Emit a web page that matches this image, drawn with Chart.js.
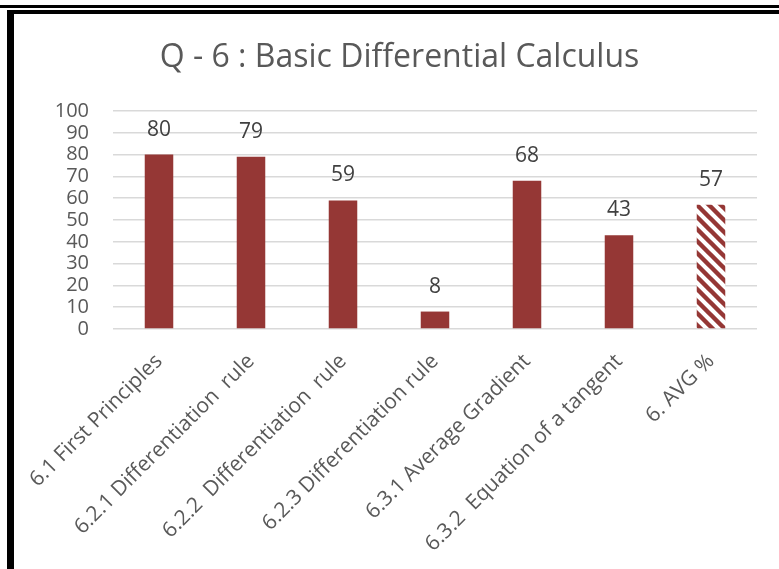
<!DOCTYPE html>
<html>
<head>
<meta charset="utf-8">
<script src="https://cdn.jsdelivr.net/npm/chart.js@4.4.1/dist/chart.umd.min.js"></script>
<style>
  html, body { margin: 0; padding: 0; background: #fff; }
  body { width: 779px; height: 569px; position: relative; overflow: hidden; }
  #topRule { position: absolute; left: 0; top: 5px; width: 779px; height: 3px; background: #000; }
  #frame { position: absolute; left: 7px; top: 10px; right: 0; bottom: 0;
           border-top: 4px solid #000; border-left: 7px solid #000; }
  #wrap { position: absolute; left: 14px; top: 14px; width: 765px; height: 555px; }
</style>
</head>
<body>
<div id="topRule"></div>
<div id="frame"></div>
<div id="wrap"><canvas id="q6-chart"></canvas></div>
<script>
// Q6 results per sub-question, last entry is the section average
const categories = [
    '6.1 First Principles',
    '6.2.1 Differentiation  rule',
    '6.2.2  Differentiation  rule',
    '6.2.3 Differentiation rule',
    '6.3.1 Average Gradient',
    '6.3.2  Equation of a tangent',
    '6. AVG %'
];
const scores = [80, 79, 59, 8, 68, 43, 57];
const yTicks = [0, 10, 20, 30, 40, 50, 60, 70, 80, 90, 100];

const BAR_RED = '#953735';
const FONT = '"Open Sans", Calibri, sans-serif';

// diagonal hatch used for the average bar
function makeHatch() {
    const size = 12;
    const c = document.createElement('canvas');
    c.width = size;
    c.height = size;
    const g = c.getContext('2d');
    g.fillStyle = '#fff';
    g.fillRect(0, 0, size, size);
    g.strokeStyle = BAR_RED;
    g.lineWidth = 4.4;
    g.beginPath();
    g.moveTo(-size, 0); g.lineTo(size, 2 * size);
    g.moveTo(0, 0); g.lineTo(size, size);
    g.moveTo(0, -size); g.lineTo(2 * size, size);
    g.stroke();
    return g.createPattern(c, 'repeat');
}

const hatch = makeHatch();
const barColors = scores.map((v, i) => i === scores.length - 1 ? hatch : BAR_RED);

// value labels above each bar
const valueLabels = {
    id: 'valueLabels',
    afterDatasetsDraw(chart) {
        const ctx = chart.ctx;
        const meta = chart.getDatasetMeta(0);
        ctx.save();
        ctx.font = '21px ' + FONT;
        ctx.fillStyle = '#404040';
        ctx.textAlign = 'center';
        ctx.textBaseline = 'middle';
        meta.data.forEach((bar, i) => {
            ctx.fillText(String(scores[i]), bar.x, bar.y - 25);
        });
        ctx.restore();
    }
};

// centre the title on the whole canvas rather than the padded box
const centreTitle = {
    id: 'centreTitle',
    afterLayout(chart) {
        const t = chart.titleBlock;
        if (t) {
            t.left += 14;
            t.right += 14;
        }
    }
};

const ctx = document.getElementById('q6-chart');
new Chart(ctx, {
    type: 'bar',
    data: {
        labels: categories,
        datasets: [{
            data: scores,
            backgroundColor: barColors,
            borderWidth: 0,
            categoryPercentage: 1,
            barPercentage: 0.31
        }]
    },
    options: {
        responsive: true,
        maintainAspectRatio: false,
        animation: false,
        layout: { padding: { left: 0, right: 22, top: 0, bottom: 0 } },
        plugins: {
            legend: { display: false },
            tooltip: { enabled: false },
            title: {
                display: true,
                text: 'Q - 6 : Basic Differential Calculus',
                color: '#595959',
                font: { family: FONT, size: 32, weight: 'normal', lineHeight: 1.2 },
                padding: { top: 25, bottom: 33.6 }
            }
        },
        scales: {
            y: {
                min: 0,
                max: 100,
                afterBuildTicks: scale => {
                    scale.ticks = yTicks.map(v => ({ value: v }));
                },
                afterFit: scale => { scale.width = 99; },
                border: { display: false },
                grid: { color: '#d9d9d9', lineWidth: 1.5, drawTicks: false },
                ticks: {
                    autoSkip: false,
                    padding: 24,
                    color: '#595959',
                    font: { family: FONT, size: 20 }
                }
            },
            x: {
                afterFit: scale => { scale.height = 240; },
                border: { display: false },
                grid: { display: false },
                ticks: {
                    autoSkip: false,
                    minRotation: 45,
                    maxRotation: 45,
                    padding: 12,
                    color: '#595959',
                    font: { family: FONT, size: 21 }
                }
            }
        }
    },
    plugins: [valueLabels, centreTitle]
});
</script>
</body>
</html>
